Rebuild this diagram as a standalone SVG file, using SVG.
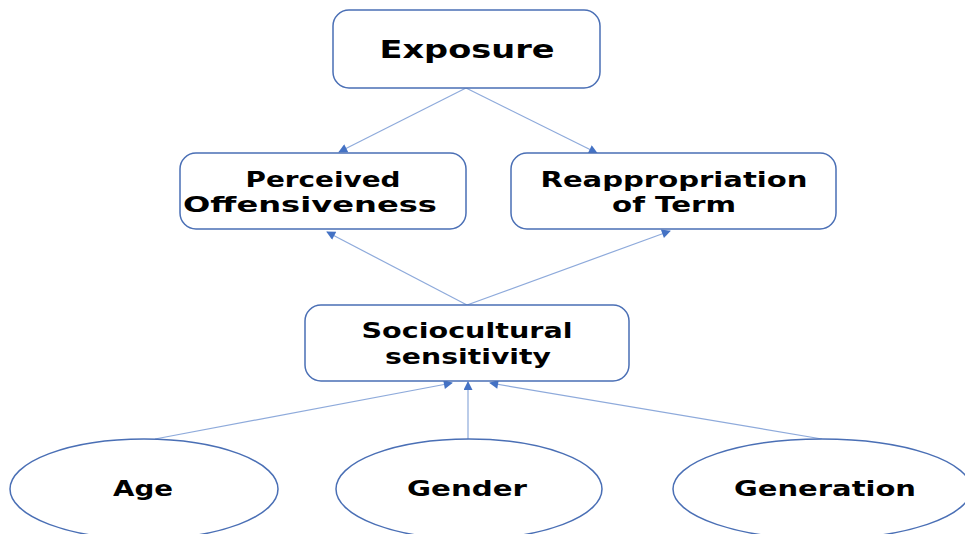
<svg xmlns="http://www.w3.org/2000/svg" width="965" height="534" viewBox="0 0 965 534">
<style>
.box{fill:#fff;stroke:#4a6fb5;stroke-width:1.5}
.lbl{font-family:"DejaVu Sans","Verdana",sans-serif;font-weight:bold;font-size:22px;fill:#000;text-anchor:middle}
.big{font-size:24px}
.con{stroke:#8eaadb;stroke-width:1.2;fill:none}
</style>
<defs>
<marker id="ah" viewBox="0 0 10 10" refX="9" refY="5" markerWidth="11" markerHeight="9" markerUnits="userSpaceOnUse" orient="auto">
<path d="M0,0 L10,5 L0,10 z" fill="#4472c4"/>
</marker>
</defs>
<rect width="965" height="534" fill="#fff"/>
<g id="connectors">
<line class="con" x1="466" y1="88" x2="339" y2="152" marker-end="url(#ah)"/>
<line class="con" x1="466" y1="88" x2="597" y2="153" marker-end="url(#ah)"/>
<line class="con" x1="467" y1="305" x2="327" y2="232" marker-end="url(#ah)"/>
<line class="con" x1="467" y1="305" x2="670" y2="231" marker-end="url(#ah)"/>
<line class="con" x1="155" y1="439" x2="452" y2="383" marker-end="url(#ah)"/>
<line class="con" x1="468" y1="439" x2="468" y2="382" marker-end="url(#ah)"/>
<line class="con" x1="822" y1="439" x2="490" y2="383" marker-end="url(#ah)"/>
</g>
<g id="exposure">
<rect class="box" x="333" y="10" width="267" height="78" rx="16"/>
<text class="lbl big" x="467" y="58" textLength="175" lengthAdjust="spacingAndGlyphs">Exposure</text>
</g>
<g id="perceived">
<rect class="box" x="180" y="153" width="286" height="76" rx="16"/>
<text class="lbl" x="323" y="187" textLength="155" lengthAdjust="spacingAndGlyphs">Perceived</text>
<text class="lbl" x="310" y="212" textLength="254" lengthAdjust="spacingAndGlyphs">Offensiveness</text>
</g>
<g id="reappropriation">
<rect class="box" x="511" y="153" width="325" height="76" rx="16"/>
<text class="lbl" x="674" y="187" textLength="267" lengthAdjust="spacingAndGlyphs">Reappropriation</text>
<text class="lbl" x="674" y="212" textLength="124" lengthAdjust="spacingAndGlyphs">of Term</text>
</g>
<g id="sociocultural">
<rect class="box" x="305" y="305" width="324" height="76" rx="16"/>
<text class="lbl" x="467" y="338" textLength="211" lengthAdjust="spacingAndGlyphs">Sociocultural</text>
<text class="lbl" x="468" y="364" textLength="166" lengthAdjust="spacingAndGlyphs">sensitivity</text>
</g>
<g id="age">
<ellipse class="box" cx="144" cy="489" rx="134" ry="50"/>
<text class="lbl" x="143" y="496" textLength="60" lengthAdjust="spacingAndGlyphs">Age</text>
</g>
<g id="gender">
<ellipse class="box" cx="469" cy="489" rx="133" ry="50"/>
<text class="lbl" x="467" y="496" textLength="120" lengthAdjust="spacingAndGlyphs">Gender</text>
</g>
<g id="generation">
<ellipse class="box" cx="822" cy="489" rx="149" ry="50"/>
<text class="lbl" x="825" y="496" textLength="182" lengthAdjust="spacingAndGlyphs">Generation</text>
</g>
</svg>
